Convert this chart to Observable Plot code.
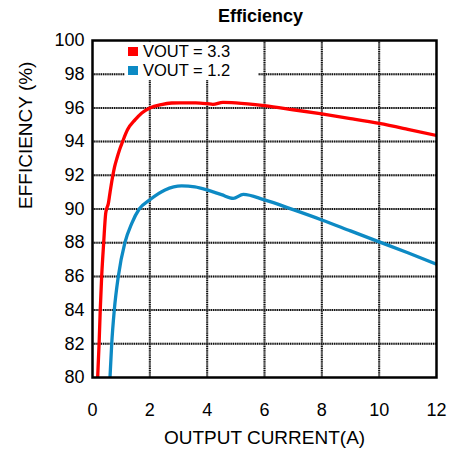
<!DOCTYPE html>
<html>
<head>
<meta charset="utf-8">
<script src="https://cdn.jsdelivr.net/npm/d3@7"></script>
<script src="https://cdn.jsdelivr.net/npm/@observablehq/plot@0.6"></script>
<style>
  html, body { margin: 0; padding: 0; background: #fff; }
  #wrap { position: relative; width: 451px; height: 451px; font-family: "Liberation Sans", Arial, sans-serif; }
  #legend { position: absolute; left: 125px; top: 42px; width: 133px; height: 38px; background: #fff; }
  .row { position: absolute; left: 3px; height: 16px; line-height: 16px; display: flex; align-items: center; font-size: 16.5px; color: #000; white-space: nowrap; }
  .sw { width: 10px; height: 9px; margin-right: 5px; }
</style>
</head>
<body>
<div id="wrap"></div>
<script>
// Data
const xTicks = [0, 2, 4, 6, 8, 10, 12];
const yTicks = [80, 82, 84, 86, 88, 90, 92, 94, 96, 98, 100];

const seriesNames = ["VOUT = 3.3", "VOUT = 1.2"];
const seriesColors = ["#ff0000", "#0d8ac4"];

const currentA = [0.18, 0.23, 0.27, 0.32, 0.39, 0.46, 0.5, 0.55, 0.6, 0.65, 0.7, 0.77, 0.85, 0.95, 1.05, 1.22, 1.49, 1.72, 2.0, 2.4, 2.76, 3.05, 3.6, 4.0, 4.2, 4.55, 5.0, 6.0, 7.0, 8.0, 9.0, 10.0, 11.0, 12.0];
const effA    = [80, 82, 84, 86, 88, 89.74, 90.05, 90.3, 90.85, 91.4, 91.9, 92.5, 93.0, 93.55, 94.0, 94.7, 95.3, 95.7, 96.0, 96.2, 96.29, 96.3, 96.3, 96.25, 96.21, 96.33, 96.3, 96.13, 95.89, 95.64, 95.37, 95.08, 94.73, 94.36];

const currentB = [0.61, 0.67, 0.76, 0.9, 1.13, 1.37, 1.63, 2.0, 2.53, 3.11, 3.57, 4.0, 4.5, 4.91, 5.26, 6.0, 7.0, 8.0, 9.0, 10.0, 11.0, 12.0];
const effB    = [80, 82, 84, 86, 88, 89.15, 90, 90.55, 91.13, 91.37, 91.31, 91.13, 90.85, 90.63, 90.87, 90.54, 89.96, 89.35, 88.7, 88.05, 87.4, 86.73];

const rows = [
  ...currentA.map((x, i) => ({x, y: effA[i], s: seriesNames[0]})),
  ...currentB.map((x, i) => ({x, y: effB[i], s: seriesNames[1]}))
];

const font = '"Liberation Sans", Arial, sans-serif';
const gridBase = {stroke: "#b0b0b0", strokeWidth: 2};
const gridDots = {stroke: "#111", strokeWidth: 2, strokeDasharray: "1.2,1"};

const chart = Plot.plot({
  width: 451,
  height: 451,
  marginLeft: 92,
  marginRight: 15,
  marginTop: 40,
  marginBottom: 74,
  style: {fontFamily: font, fontSize: "18px", background: "#fff", color: "#000"},
  x: {domain: [0, 12], ticks: xTicks, tickSize: 0, tickPadding: 26, label: null},
  y: {domain: [80, 100], ticks: yTicks, tickSize: 0, tickPadding: 8, label: null},
  color: {domain: seriesNames, range: seriesColors},
  marks: [
    Plot.ruleX(xTicks.slice(1, -1), gridBase),
    Plot.ruleY(yTicks.slice(1, -1), gridBase),
    Plot.ruleX(xTicks.slice(1, -1), gridDots),
    Plot.ruleY(yTicks.slice(1, -1), gridDots),
    Plot.line(rows, {x: "x", y: "y", z: "s", stroke: "s", strokeWidth: 3.3, curve: "monotone-x", clip: true}),
    Plot.frame({stroke: "#000", strokeWidth: 2.5}),
    Plot.text(["Efficiency"], {frameAnchor: "top", dy: -24, dx: -4, fontWeight: "bold", fontSize: 18, lineAnchor: "middle"}),
    Plot.text(["OUTPUT CURRENT(A)"], {frameAnchor: "bottom", dy: 60, fontSize: 19, lineAnchor: "middle"}),
    Plot.text(["EFFICIENCY (%)"], {frameAnchor: "left", dx: -67, rotate: -90, fontSize: 19, lineAnchor: "middle"})
  ]
});

const wrap = document.getElementById("wrap");
wrap.appendChild(chart);

const legend = document.createElement("div");
legend.id = "legend";
seriesNames.forEach((name, i) => {
  const row = document.createElement("div");
  row.className = "row";
  row.style.top = (1 + i * 19) + "px";
  const sw = document.createElement("span");
  sw.className = "sw";
  sw.style.background = seriesColors[i];
  const t = document.createElement("span");
  t.textContent = name;
  row.appendChild(sw);
  row.appendChild(t);
  legend.appendChild(row);
});
wrap.appendChild(legend);
</script>
</body>
</html>
